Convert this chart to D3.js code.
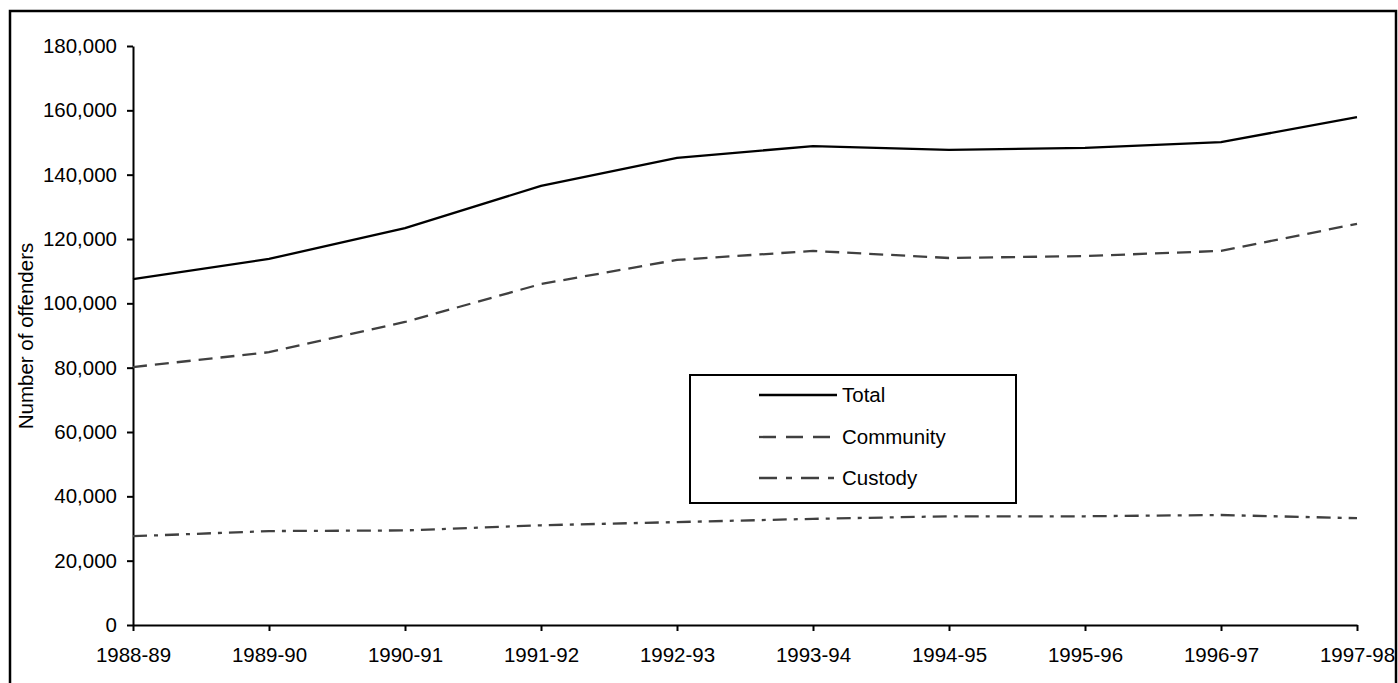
<!DOCTYPE html>
<html><head><meta charset="utf-8">
<script src="https://cdn.jsdelivr.net/npm/d3@7"></script>
<style>
html,body{margin:0;padding:0;background:#fff;}
svg{display:block;font-family:"Liberation Sans",Arial,sans-serif;}
</style></head>
<body>
<svg id="chart" width="1398" height="683"></svg>
<script>
const categories = ["1988-89","1989-90","1990-91","1991-92","1992-93","1993-94","1994-95","1995-96","1996-97","1997-98"];
const totalValues = [107500,113800,123400,136500,145200,148900,147700,148300,150100,157900];
const communityValues = [80200,84800,94200,106000,113500,116300,114100,114700,116300,124700];
const custodyValues = [27600,29200,29400,31000,32000,33000,33800,33800,34200,33200];
const yTicks = [0,20000,40000,60000,80000,100000,120000,140000,160000,180000];
const seriesNames = ["Total","Community","Custody"];

const FS = 20.5;
const svg = d3.select("#chart");
// outer frame
svg.append("rect").attr("x",10).attr("y",11).attr("width",1386).attr("height",690)
  .attr("fill","none").attr("stroke","#000").attr("stroke-width",2.5);

const x = d3.scalePoint().domain(categories).range([133,1357]);
const y = d3.scaleLinear().domain([0,180000]).range([625,46]);

const fmt = d3.format(",");
const yAxis = svg.append("g").attr("transform","translate(133,0)")
  .call(d3.axisLeft(y).tickValues(yTicks).tickFormat(fmt).tickSize(6).tickSizeOuter(0).tickPadding(10));
const xAxis = svg.append("g").attr("transform","translate(0,625)")
  .call(d3.axisBottom(x).tickSize(6).tickSizeOuter(0).tickPadding(16.5));
[yAxis,xAxis].forEach(g=>{
  g.attr("font-size",FS).attr("font-family","Liberation Sans, Arial, sans-serif");
  g.selectAll(".domain").attr("stroke","#000").attr("stroke-width",2);
  g.selectAll(".tick line").attr("stroke","#000").attr("stroke-width",2);
  g.selectAll("text").attr("fill","#000").attr("font-size",FS);
});

svg.append("text").attr("transform","translate(33,336) rotate(-90)")
  .attr("text-anchor","middle").attr("font-size",FS).attr("fill","#000")
  .text("Number of offenders");

const styles = [
  {color:"#000", dash:null, legendDash:null, width:2.3},
  {color:"#404040", dash:"14,8", legendDash:"17,10", width:2.3},
  {color:"#404040", dash:"14,7,4,7", legendDash:"18,9,6,9", width:2.3}
];
const allSeries = [totalValues, communityValues, custodyValues];
const line = d3.line().x((d,i)=>x(categories[i])).y(d=>y(d));
allSeries.forEach((vals,k)=>{
  svg.append("path").datum(vals).attr("d",line).attr("fill","none")
    .attr("stroke",styles[k].color).attr("stroke-width",styles[k].width)
    .attr("stroke-dasharray",styles[k].dash);
});

// legend
const lg = svg.append("g");
lg.append("rect").attr("x",690).attr("y",375).attr("width",326).attr("height",128)
  .attr("fill","#fff").attr("stroke","#000").attr("stroke-width",2);
const rowsY = [395,437,478];
seriesNames.forEach((name,k)=>{
  lg.append("line").attr("x1",759).attr("x2",837).attr("y1",rowsY[k]).attr("y2",rowsY[k])
    .attr("stroke",styles[k].color).attr("stroke-width",styles[k].width)
    .attr("stroke-dasharray",styles[k].legendDash);
  lg.append("text").attr("x",842).attr("y",rowsY[k]).attr("dy","0.35em")
    .attr("font-size",FS).attr("fill","#000").text(name);
});
</script>
</body></html>
